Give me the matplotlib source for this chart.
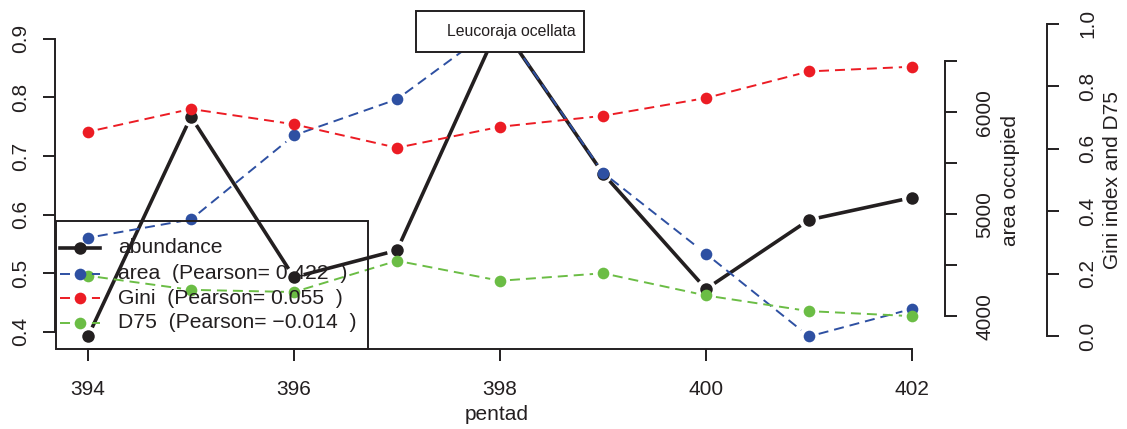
import matplotlib.pyplot as plt
import numpy as np
from matplotlib.patches import Rectangle
from matplotlib.lines import Line2D

plt.rcParams['font.family'] = ['Liberation Sans', 'DejaVu Sans']
plt.rcParams['lines.scale_dashes'] = False

pentad = [394, 395, 396, 397, 398, 399, 400, 401, 402]
abundance = [0.392, 0.767, 0.493, 0.539, 0.926, 0.670, 0.473, 0.591, 0.629]
area = [4768, 4948, 5773, 6127, 6870, 5407, 4611, 3800, 4071]
gini = [0.654, 0.727, 0.678, 0.603, 0.670, 0.705, 0.762, 0.847, 0.862]
d75 = [0.194, 0.149, 0.142, 0.242, 0.178, 0.202, 0.131, 0.081, 0.065]

legend_labels = ["abundance",
                 "area  (Pearson= 0.422  )",
                 "Gini  (Pearson= 0.055  )",
                 "D75  (Pearson= \u22120.014  )"]
species = "Leucoraja ocellata"

BLACK = '#231f20'
BLUE = '#2e50a2'
RED = '#ec1c24'
GREEN = '#6bbd45'
FS = 15
W, H = 1127, 429
DASH = (0, (7.2, 4.3))


def rlim(v):
    lo, hi = min(v), max(v)
    r = hi - lo
    return lo - 0.04 * r, hi + 0.04 * r


def fx(px):
    return px / W


def fy(py):
    return 1 - py / H


def draw_b(axis, x, y, color, lw, ls, ms, gap=10):
    # lines with gaps around the points
    pts = axis.transData.transform(np.column_stack([x, y]))
    inv = axis.transData.inverted()
    for p, q in zip(pts[:-1], pts[1:]):
        d = q - p
        n = np.hypot(*d)
        if n <= 2 * gap:
            continue
        u = d / n
        seg = inv.transform(np.array([p + u * gap, q - u * gap]))
        axis.plot(seg[:, 0], seg[:, 1], color=color, lw=lw, ls=ls,
                  solid_capstyle='butt', dash_capstyle='butt')
    axis.plot(x, y, 'o', color=color, ms=ms, mec=color, mew=0)


fig = plt.figure(figsize=(W / 100, H / 100), dpi=100)
ax = fig.add_axes([fx(55), fy(349), fx(945) - fx(55), fy(11) - fy(349)])
ax.patch.set_alpha(0)
ax2 = ax.twinx()
ax3 = ax.twinx()

ax.set_xlim(rlim(pentad))
ax.set_ylim(rlim(abundance))
ax2.set_ylim(rlim(area))
ax3.set_ylim(-0.04, 1.04)

for a in (ax, ax2, ax3):
    a.spines['top'].set_visible(False)
    for s in a.spines.values():
        s.set_linewidth(1.4)
        s.set_color(BLACK)
    a.tick_params(direction='out', length=8.6, width=1.4, labelsize=FS,
                  colors=BLACK)
for a in (ax2, ax3):
    a.spines['left'].set_visible(False)
    a.spines['bottom'].set_visible(False)
ax.spines['right'].set_visible(False)
ax3.spines['right'].set_position(('outward', 73.2))

ax.set_xticks([394, 396, 398, 400, 402])
ax.set_yticks([0.4, 0.5, 0.6, 0.7, 0.8, 0.9])
ax2.set_yticks([4000, 4500, 5000, 5500, 6000, 6500])
ax2.set_yticklabels(['4000', '', '5000', '', '6000', ''])
ax3.set_yticks([0.0, 0.2, 0.4, 0.6, 0.8, 1.0])
ax3.set_yticklabels(['0.0', '0.2', '0.4', '0.6', '0.8', '1.0'])
ax.spines['bottom'].set_bounds(394, 402)
ax.spines['left'].set_bounds(0.4, 0.9)
ax2.spines['right'].set_bounds(4000, 6500)
ax3.spines['right'].set_bounds(0, 1)

ax.tick_params(axis='x', pad=13.5)
ax.tick_params(axis='y', pad=9.5)
ax2.tick_params(axis='y', pad=13.3)
ax3.tick_params(axis='y', pad=14)
for a in (ax, ax2, ax3):
    for lab in a.get_yticklabels():
        lab.set_rotation(90)
        lab.set_va('center')

draw_b(ax, pentad, abundance, BLACK, 2.6, '-', 9)
draw_b(ax2, pentad, area, BLUE, 1.4, DASH, 8.4)
draw_b(ax3, pentad, gini, RED, 1.4, DASH, 8.4)
draw_b(ax3, pentad, d75, GREEN, 1.4, DASH, 8.4)

# axis titles
fig.text(fx(497), fy(414), 'pentad', ha='center', va='center', fontsize=FS,
         color=BLACK)
fig.text(fx(1011), fy(180), 'area occupied', ha='center', va='center',
         rotation=90, fontsize=FS, color=BLACK)
fig.text(fx(1113), fy(180), 'Gini index and D75', ha='center', va='center',
         rotation=90, fontsize=FS, color=BLACK)

# legend box, bottom left
fig.patches.append(Rectangle((fx(55.7), fy(349)), fx(367.7) - fx(55.7),
                             fy(221) - fy(349), transform=fig.transFigure,
                             fill=False, ec=BLACK, lw=1.4))
rows = [248, 273.7, 298.3, 323]
styles = [(BLACK, 2.6, '-', 9), (BLUE, 1.4, DASH, 8.4),
          (RED, 1.4, DASH, 8.4), (GREEN, 1.4, DASH, 8.4)]
for ry, lab, (c, lw, ls, ms) in zip(rows, legend_labels, styles):
    fig.lines.append(Line2D([fx(60), fx(100)], [fy(ry), fy(ry)],
                            transform=fig.transFigure, color=c, lw=lw, ls=ls,
                            dash_capstyle='butt'))
    fig.lines.append(Line2D([fx(80)], [fy(ry)], transform=fig.transFigure,
                            marker='o', color=c, ms=ms, mew=0))
    fig.text(fx(118), fy(ry), lab, ha='left', va='center', fontsize=15.2,
             color=BLACK)

# species box, top centre
fig.patches.append(Rectangle((fx(416), fy(51.7)), fx(584) - fx(416),
                             fy(10.7) - fy(51.7), transform=fig.transFigure,
                             fc='white', ec=BLACK, lw=1.4))
fig.text(fx(446.7), fy(31.5), species, ha='left', va='center', fontsize=11.4,
         color=BLACK)

fig.savefig('out.png', dpi=100)
